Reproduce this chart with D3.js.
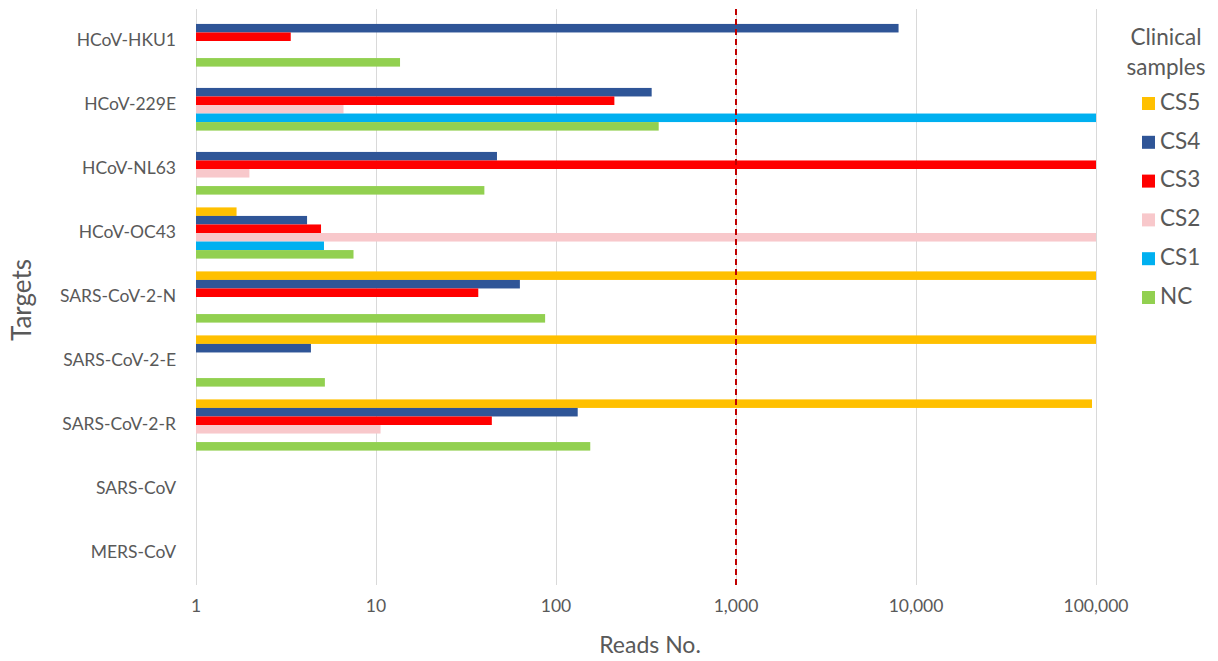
<!DOCTYPE html>
<html lang="en">
<head>
  <meta charset="UTF-8" />
  <title>Reads per target</title>
  <script src="https://d3js.org/d3.v7.min.js"></script>
  <style>
    html, body { margin: 0; background: #fff; }
    svg { display: block; font-family: Lato, "Open Sans", sans-serif; }
    .grid line { stroke: #d9d9d9; stroke-width: 1; }
    .tick-label { fill: #595959; font-size: 17.5px; }
    .cat-label { fill: #595959; font-size: 17.5px; }
    .axis-title { fill: #595959; font-size: 23px; }
    .legend text { fill: #595959; font-size: 22.5px; }
  </style>
</head>
<body>
  <svg id="chart" width="1218" height="661"></svg>
  <script>
    const targets = ['HCoV-HKU1', 'HCoV-229E', 'HCoV-NL63', 'HCoV-OC43',
      'SARS-CoV-2-N', 'SARS-CoV-2-E', 'SARS-CoV-2-R', 'SARS-CoV', 'MERS-CoV'];
    const seriesNames = ['CS5', 'CS4', 'CS3', 'CS2', 'CS1', 'NC'];
    const seriesColors = ['#ffc000', '#2f5597', '#ff0000', '#f8c8cb', '#00b0f0', '#92d050'];

    // reads per target, null = no reads
    const cs5 = [null, null, null, 1.68, 100000, 100000, 95000, null, null];
    const cs4 = [8000, 340, 47, 4.14, 63, 4.35, 132, null, null];
    const cs3 = [3.36, 211, 100000, 4.95, 37, null, 44, null, null];
    const cs2 = [null, 6.6, 1.98, 100000, null, null, 10.6, null, null];
    const cs1 = [null, 100000, null, 5.14, null, null, null, null, null];
    const nc  = [13.6, 372, 40, 7.5, 87, 5.2, 155, null, null];
    const seriesValues = [cs5, cs4, cs3, cs2, cs1, nc];

    const tickValues = [1, 10, 100, 1000, 10000, 100000];
    const threshold = 1000;

    const margin = { top: 9, left: 196 };
    const width = 900, height = 576;

    const svg = d3.select('#chart');
    const g = svg.append('g').attr('transform', `translate(${margin.left},${margin.top})`);

    const x = d3.scaleLog().domain([1, 100000]).range([0, width]);
    const y = d3.scaleBand().domain(targets).range([0, height]).paddingInner(0.2).paddingOuter(0.1);
    const ySub = d3.scaleBand().domain(seriesNames).range([0, y.bandwidth()]);

    // gridlines
    g.append('g').attr('class', 'grid')
      .selectAll('line').data(tickValues).enter().append('line')
      .attr('x1', d => Math.round(x(d)) + 0.5).attr('x2', d => Math.round(x(d)) + 0.5)
      .attr('y1', 0).attr('y2', height);

    // bars
    const rows = [];
    targets.forEach((t, i) => {
      seriesNames.forEach((s, j) => {
        const v = seriesValues[j][i];
        if (v != null) rows.push({ target: t, series: s, color: seriesColors[j], value: v });
      });
    });
    g.append('g').selectAll('rect').data(rows).enter().append('rect')
      .attr('x', x(1))
      .attr('y', d => y(d.target) + ySub(d.series))
      .attr('width', d => x(d.value) - x(1))
      .attr('height', ySub.bandwidth())
      .attr('fill', d => d.color);

    // threshold line
    g.append('line')
      .attr('x1', x(threshold)).attr('x2', x(threshold))
      .attr('y1', 0).attr('y2', height)
      .attr('stroke', '#c00000').attr('stroke-width', 2)
      .attr('stroke-dasharray', '6,4');

    // x tick labels
    const fmt = d3.format(',');
    g.append('g').selectAll('text').data(tickValues).enter().append('text')
      .attr('class', 'tick-label')
      .attr('x', d => x(d)).attr('y', height + 27)
      .attr('text-anchor', 'middle')
      .text(d => fmt(d));

    // category labels
    g.append('g').selectAll('text').data(targets).enter().append('text')
      .attr('class', 'cat-label')
      .attr('x', -20).attr('y', d => y(d) + y.bandwidth() / 2 + 1)
      .attr('text-anchor', 'end').attr('dominant-baseline', 'middle')
      .text(d => d);

    // axis titles
    svg.append('text').attr('class', 'axis-title')
      .attr('x', margin.left + width / 2 + 4).attr('y', 653)
      .attr('text-anchor', 'middle').text('Reads No.');
    svg.append('text').attr('class', 'axis-title')
      .attr('transform', 'translate(31,300) rotate(-90)')
      .attr('text-anchor', 'middle').style('font-size', '26px').text('Targets');

    // legend
    const legend = svg.append('g').attr('class', 'legend');
    legend.append('text').attr('x', 1166).attr('y', 45).attr('text-anchor', 'middle').text('Clinical');
    legend.append('text').attr('x', 1166).attr('y', 75).attr('text-anchor', 'middle').text('samples');
    const items = legend.selectAll('.item').data(seriesNames).enter().append('g')
      .attr('transform', (d, i) => `translate(1142,${103 + i * 38.8})`);
    items.append('rect').attr('x', 0).attr('y', -6).attr('width', 13).attr('height', 13)
      .attr('fill', (d, i) => seriesColors[i]);
    items.append('text').attr('x', 18).attr('y', 1).attr('dominant-baseline', 'middle').text(d => d);
  </script>
</body>
</html>
